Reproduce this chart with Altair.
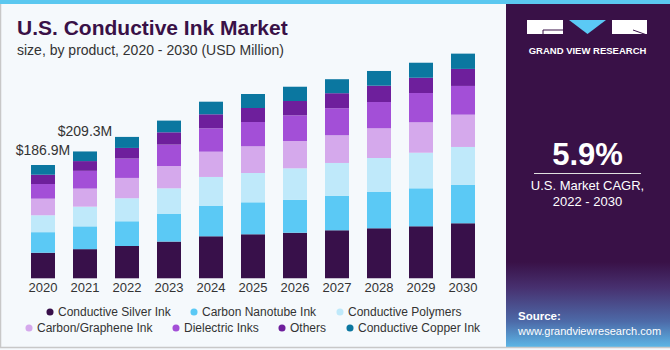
import altair as alt
import pandas as pd

years = ['2020', '2021', '2022', '2023', '2024', '2025', '2026', '2027', '2028', '2029', '2030']
series_names = ['Conductive Silver Ink', 'Carbon Nanotube Ink', 'Conductive Polymers',
                'Carbon/Graphene Ink', 'Dielectric Inks', 'Others', 'Conductive Copper Ink']
silver = [42.2, 48.1, 53.3, 60.6, 69.3, 72.6, 75.2, 79.2, 82.5, 85.8, 90.8]
nanotube = [33.9, 37.6, 40.8, 45.5, 50.0, 52.8, 54.5, 57.1, 59.9, 62.7, 63.2]
polymers = [27.9, 32.5, 38.0, 42.4, 47.9, 48.3, 51.8, 54.0, 56.1, 58.7, 62.7]
graphene = [27.4, 29.8, 33.5, 36.8, 41.7, 44.1, 45.0, 45.7, 49.0, 50.2, 53.3]
dielectric = [24.2, 29.3, 32.0, 35.3, 38.6, 40.1, 42.4, 44.6, 43.4, 48.3, 47.4]
others = [15.3, 16.1, 17.5, 20.3, 23.1, 23.1, 23.6, 24.8, 26.9, 25.2, 28.1]
copper = [16.0, 15.9, 18.2, 19.3, 20.8, 23.1, 23.6, 23.1, 24.3, 24.8, 25.2]
colors = ['#38104a', '#5bc9f5', '#bfe9fa', '#d5a9ec', '#a34fd7', '#6e1f9c', '#0b77a0']
annot_years = ['2020', '2021']
annot_labels = ['$186.9M', '$209.3M']

all_series = [silver, nanotube, polymers, graphene, dielectric, others, copper]
rows = []
for si, (name, vals) in enumerate(zip(series_names, all_series)):
    for y, v in zip(years, vals):
        rows.append({'year': y, 'series': name, 'value': v, 'order': si})
df = pd.DataFrame(rows)

DARK = '#391147'
TXT = '#333333'
FONT = 'Liberation Sans'
one = pd.DataFrame({'a': [0]})

xscale = alt.Scale(domain=years, range=[22, 484], paddingInner=0.4286, paddingOuter=0.2143)
yscale = alt.Scale(domain=[0, 400], range=[278.3, 278.3 - 400 / 1.65], nice=False, zero=True)

legend_common = dict(orient='none', direction='horizontal', symbolType='circle', symbolSize=50,
                     symbolStrokeWidth=0, labelFontSize=12, labelFont=FONT, labelColor=TXT,
                     columnPadding=17, labelOffset=2, title=None, padding=0, labelLimit=300)

base = alt.Chart(df).transform_stack(
    stack='value', groupby=['year'], as_=['y0', 'y1'],
    sort=[alt.SortField('order', order='ascending')])

bars_a = base.transform_filter('datum.order < 3').mark_bar().encode(
    x=alt.X('year:O', scale=xscale, axis=None),
    y=alt.Y('y0:Q', scale=yscale, axis=None),
    y2='y1:Q',
    color=alt.Color('series:N', scale=alt.Scale(domain=series_names[:3], range=colors[:3]),
                    legend=alt.Legend(legendX=44, legendY=306, **legend_common)),
)
bars_b = base.transform_filter('datum.order >= 3').mark_bar().encode(
    x=alt.X('year:O', scale=xscale, axis=None),
    y=alt.Y('y0:Q', scale=yscale, axis=None),
    y2='y1:Q',
    fill=alt.Fill('series:N', scale=alt.Scale(domain=series_names[3:], range=colors[3:]),
                  legend=alt.Legend(legendX=23, legendY=322, **legend_common)),
)

year_df = pd.DataFrame({'year': years})
year_labels = alt.Chart(year_df).mark_text(fontSize=13, font=FONT, color=TXT, baseline='middle').encode(
    x=alt.X('year:O', scale=xscale, axis=None), y=alt.value(288), text='year:N')

totals = {y: sum(s[i] for s in all_series) for i, y in enumerate(years)}
ann_layers = []
for yr, lab, dy in zip(annot_years, annot_labels, [-14, -19]):
    adf = pd.DataFrame({'year': [yr], 'total': [totals[yr]], 'label': [lab]})
    ann_layers.append(alt.Chart(adf).mark_text(fontSize=14, font=FONT, color=TXT, baseline='middle', dy=dy).encode(
        x=alt.X('year:O', scale=xscale, axis=None),
        y=alt.Y('total:Q', scale=yscale, axis=None),
        text='label:N'))

def rect(x, x2, y, y2, color):
    return alt.Chart(one).mark_rect(color=color).encode(
        x=alt.value(x), x2=alt.value(x2), y=alt.value(y), y2=alt.value(y2))

def text(s, x, y, size, color, weight='normal', align='left', baseline='alphabetic'):
    return alt.Chart(one).mark_text(text=s, fontSize=size, color=color, font=FONT,
                                    fontWeight=weight, align=align, baseline=baseline).encode(
        x=alt.value(x), y=alt.value(y))

def rule(x, x2, y, y2, color, w=1):
    return alt.Chart(one).mark_rule(color=color, strokeWidth=w).encode(
        x=alt.value(x), x2=alt.value(x2), y=alt.value(y), y2=alt.value(y2))

grad = alt.Gradient(gradient='linear', x1=0, x2=0, y1=0, y2=1, stops=[
    alt.GradientStop(color=DARK, offset=0),
    alt.GradientStop(color='#47306f', offset=0.3),
    alt.GradientStop(color='#4d6aa8', offset=0.7),
    alt.GradientStop(color='#5cb6e6', offset=1)])
panel_grad = alt.Chart(one).mark_rect(color=grad).encode(
    x=alt.value(506), x2=alt.value(670), y=alt.value(262), y2=alt.value(347))

tri = alt.Chart(one).mark_point(shape='M-1,-0.38L1,-0.38L0,0.38Z', size=1369, filled=True,
                                 color='#5bc9f5', opacity=1, strokeWidth=0).encode(
    x=alt.value(587.5), y=alt.value(27))

decor = [
    rect(0, 670, 0, 4, '#5bc8f0'),
    rect(506, 670, 4, 347, DARK),
    panel_grad,
    rule(0.5, 0.5, 4, 347, '#c8c8c8', 1.5),
    rule(0, 670, 347.5, 347.5, '#c8c8c8', 1.5),
    rect(527, 563, 20, 34, 'white'),
    rule(543, 563, 30, 30, DARK, 1),
    rule(543, 543, 30, 34, DARK, 1),
    rect(612, 647, 20, 34, 'white'),
    rule(633, 647, 30, 35, DARK, 1),
    tri,
    text('GRAND VIEW RESEARCH', 587.5, 54, 9.5, 'white', 'bold', 'center'),
    text('5.9%', 587.5, 165, 31, 'white', 'bold', 'center'),
    rule(534, 641, 173.5, 173.5, '#e0e0e0', 1),
    text('U.S. Market CAGR,', 587.5, 189.5, 13, 'white', 'normal', 'center'),
    text('2022 - 2030', 587.5, 206, 13, 'white', 'normal', 'center'),
    text('Source:', 518, 320, 11.5, 'white', 'bold', 'left'),
    text('www.grandviewresearch.com', 518, 334.5, 11, 'white', 'normal', 'left'),
    text('U.S. Conductive Ink Market', 17, 35, 21, DARK, 'bold', 'left'),
    text('size, by product, 2020 - 2030 (USD Million)', 17, 54.5, 14, TXT, 'normal', 'left'),
]

chart = alt.layer(*decor, bars_a, bars_b, year_labels, *ann_layers).resolve_scale(
    color='independent', fill='independent'
).properties(
    width=670, height=350, padding=0, background='#f5f9fc',
    autosize=alt.AutoSizeParams(type='none')
).configure_view(strokeWidth=0)

chart.save('out.html', embed_options={'renderer': 'svg', 'actions': False})
